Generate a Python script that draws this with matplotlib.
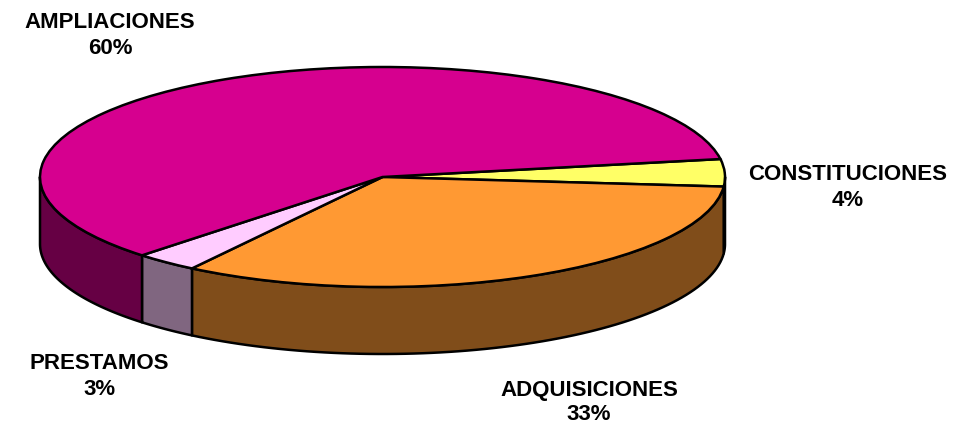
#!/usr/bin/env python3
import matplotlib
matplotlib.use('Agg')
import matplotlib.pyplot as plt
import numpy as np

plt.rcParams['font.family'] = ['Liberation Sans', 'DejaVu Sans']

labels = ['CONSTITUCIONES', 'ADQUISICIONES', 'PRESTAMOS', 'AMPLIACIONES']
values = [4, 33, 3, 60]
top_colors = ['#FFFF66', '#FF9933', '#FFCCFF', '#D6008F']
side_colors = ['#80801A', '#804D1A', '#806680', '#660044']
# centre x, baseline y of the name, baseline y of the percent
label_pos = [(848, 180, 206), (589, 396, 420), (99, 369, 395), (110, 28, 54)]

W, H = 958, 424
cx, cy, rx, ry = 382.5, 177, 342.5, 110
depth = 67 / ry
start = 9.4

fig = plt.figure(figsize=(W / 100, H / 100), dpi=100)
ax = fig.add_axes([0, 0, 1, 1])

# front wall of the pie, one piece per slice
a = start
for v, c in zip(values, side_colors):
	a2 = a - v * 3.6
	lo, hi = max(a2, -180), min(a, 0)
	if hi > lo:
		t = np.radians(np.linspace(hi, lo, 80))
		x = np.cos(t)
		y = np.sin(t)
		ax.fill(np.r_[x, x[::-1]], np.r_[y, y[::-1] - depth], fc=c, ec='black', lw=1.8, joinstyle='round', zorder=1)
	a = a2

# top face
wedges, _ = ax.pie(values, colors=top_colors, startangle=start, counterclock=False,
	radius=1, wedgeprops=dict(edgecolor='black', linewidth=1.8, zorder=2))

ax.set_aspect('auto')
ax.set_xlim((0 - cx) / rx, (W - cx) / rx)
ax.set_ylim((cy - H) / ry, cy / ry)
ax.axis('off')

for name, v, (px, py, py2) in zip(labels, values, label_pos):
	fig.text(px / W, 1 - py / H, name, ha='center', va='baseline', fontsize=16, fontweight='bold', color='black')
	fig.text(px / W, 1 - py2 / H, '%d%%' % v, ha='center', va='baseline', fontsize=16, fontweight='bold', color='black')

fig.savefig('out.png', dpi=100)
